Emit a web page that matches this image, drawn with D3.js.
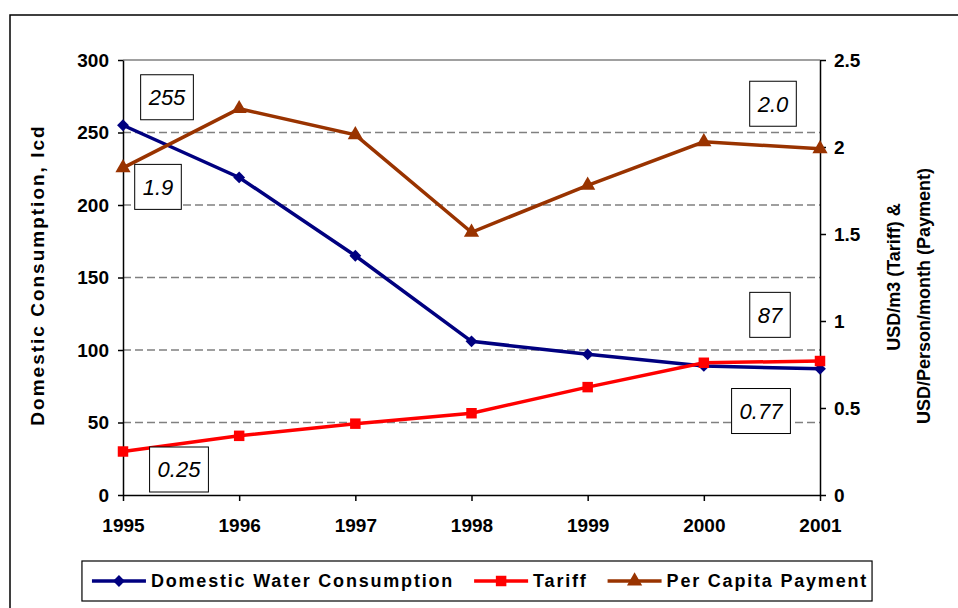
<!DOCTYPE html>
<meta charset="utf-8">
<script src="https://d3js.org/d3.v7.min.js"></script>
<style>
body { margin: 0; background: #fff; }
text { font-family: "Liberation Sans", Arial, sans-serif; }
</style>
<div id="main"></div>
<script>

// data
const years = [1995, 1996, 1997, 1998, 1999, 2000, 2001];
const consumption = [255, 219, 165, 106, 97, 89, 87];      // lcd, left axis
const tariff = [0.25, 0.34, 0.41, 0.47, 0.62, 0.76, 0.77]; // USD/m3, right axis
const payment = [1.88, 2.22, 2.07, 1.51, 1.78, 2.03, 1.99]; // USD/person/month, right axis
const leftTicks = [0, 50, 100, 150, 200, 250, 300];
const rightTicks = [0, 0.5, 1, 1.5, 2, 2.5];
const rightTickLabels = ["0", "0.5", "1", "1.5", "2", "2.5"];

const series = [
  {name: "Domestic Water Consumption", values: consumption, axis: "left", color: "#000080", symbol: "diamond"},
  {name: "Tariff", values: tariff, axis: "right", color: "#ff0000", symbol: "square"},
  {name: "Per Capita Payment", values: payment, axis: "right", color: "#993300", symbol: "triangle"}
];

// boxed value labels: series index, point index, text, offset of box centre
const labels = [
  {s: 0, i: 0, text: "255", dx: 44, dy: -28},
  {s: 2, i: 0, text: "1.9", dx: 35, dy: 19},
  {s: 1, i: 0, text: "0.25", dx: 56, dy: 18},
  {s: 2, i: 6, text: "2.0", dx: -47, dy: -45},
  {s: 0, i: 6, text: "87", dx: -50, dy: -54},
  {s: 1, i: 6, text: "0.77", dx: -59, dy: 50}
];

const W = 958, H = 608;
const plot = {left: 123, right: 820, top: 60, bottom: 495};

const svg = d3.select("#main").append("svg")
    .attr("width", W)
    .attr("height", H);

// outer frame (runs off the right and bottom of the picture)
svg.append("path")
    .attr("d", "M10," + H + "V15H" + W)
    .attr("fill", "none")
    .attr("stroke", "#000")
    .attr("stroke-width", 1.5);

const x = d3.scalePoint().domain(years).range([plot.left, plot.right]);
const yL = d3.scaleLinear().domain([0, 300]).range([plot.bottom, plot.top]);
const yR = d3.scaleLinear().domain([0, 2.5]).range([plot.bottom, plot.top]);
const yOf = s => s.axis === "left" ? yL : yR;

// gridlines
svg.append("g")
  .selectAll("line")
  .data(leftTicks.filter(d => d > 0 && d < 300))
  .enter().append("line")
    .attr("x1", plot.left).attr("x2", plot.right)
    .attr("y1", d => yL(d)).attr("y2", d => yL(d))
    .attr("stroke", "#808080")
    .attr("stroke-width", 1.3)
    .attr("stroke-dasharray", "8,4");

// top border of plot area
svg.append("line")
    .attr("x1", plot.left).attr("x2", plot.right)
    .attr("y1", plot.top).attr("y2", plot.top)
    .attr("stroke", "#808080")
    .attr("stroke-width", 1.5);

function styleAxis(g) {
  g.selectAll("path, line").attr("stroke", "#000").attr("stroke-width", 1.5);
  g.selectAll("text")
      .attr("fill", "#000")
      .attr("font-size", 19)
      .attr("font-weight", "bold")
      .attr("font-family", "\"Liberation Sans\", Arial, sans-serif");
}

svg.append("g")
    .attr("transform", "translate(" + plot.left + ",0)")
    .call(d3.axisLeft(yL).tickValues(leftTicks).tickSize(5).tickSizeOuter(0).tickPadding(9))
    .call(styleAxis);

svg.append("g")
    .attr("transform", "translate(" + plot.right + ",0)")
    .call(d3.axisRight(yR).tickValues(rightTicks).tickSize(6).tickSizeOuter(0).tickPadding(8)
      .tickFormat((d, i) => rightTickLabels[i]))
    .call(styleAxis);

svg.append("g")
    .attr("transform", "translate(0," + plot.bottom + ")")
    .call(d3.axisBottom(x).tickSize(6).tickSizeOuter(0).tickPadding(18))
    .call(styleAxis);

// axis titles
svg.append("text")
    .attr("transform", "translate(44,275) rotate(-90)")
    .attr("text-anchor", "middle")
    .attr("font-size", 19)
    .attr("font-weight", "bold")
    .attr("letter-spacing", "2px")
    .text("Domestic Consumption, lcd");

svg.append("text")
    .attr("transform", "translate(900,277) rotate(-90)")
    .attr("text-anchor", "middle")
    .attr("font-size", 18)
    .attr("font-weight", "bold")
    .text("USD/m3 (Tariff) &");

svg.append("text")
    .attr("transform", "translate(930,296) rotate(-90)")
    .attr("text-anchor", "middle")
    .attr("font-size", 18)
    .attr("font-weight", "bold")
    .text("USD/Person/month (Payment)");

// lines and markers
const symbolPath = {
  diamond: d3.symbol().type(d3.symbolSquare).size(70)(),
  square: d3.symbol().type(d3.symbolSquare).size(110)(),
  triangle: d3.symbol().type(d3.symbolTriangle).size(100)()
};
const symbolRot = {diamond: 45, square: 0, triangle: 0};

series.forEach(s => {
  const y = yOf(s);
  const line = d3.line()
      .x((d, i) => x(years[i]))
      .y(d => y(d));

  svg.append("path")
      .datum(s.values)
      .attr("d", line)
      .attr("fill", "none")
      .attr("stroke", s.color)
      .attr("stroke-width", 3.5)
      .attr("stroke-linejoin", "miter");

  svg.append("g")
    .selectAll("path")
    .data(s.values)
    .enter().append("path")
      .attr("d", symbolPath[s.symbol])
      .attr("transform", (d, i) => "translate(" + x(years[i]) + "," + y(d) + ") rotate(" + symbolRot[s.symbol] + ")")
      .attr("fill", s.color);
});

// boxed value labels
labels.forEach(l => {
  const s = series[l.s];
  const cx = x(years[l.i]) + l.dx;
  const cy = yOf(s)(s.values[l.i]) + l.dy;
  const g = svg.append("g");
  const rect = g.append("rect")
      .attr("fill", "#fff")
      .attr("stroke", "#000")
      .attr("stroke-width", 1);
  const t = g.append("text")
      .attr("x", cx)
      .attr("y", cy)
      .attr("dy", "0.36em")
      .attr("text-anchor", "middle")
      .attr("font-size", 22)
      .attr("font-style", "italic")
      .text(l.text);
  const w = t.node().getComputedTextLength() + 16;
  const h = 45;
  rect.attr("x", cx - w / 2).attr("y", cy - h / 2).attr("width", w).attr("height", h);
});

// legend
const legend = svg.append("g");
const legendBox = legend.append("rect")
    .attr("fill", "#fff")
    .attr("stroke", "#000")
    .attr("stroke-width", 1.2);
const legendY = 581;
let lx = 0;
const items = legend.append("g");
series.forEach((s, k) => {
  const g = items.append("g").attr("transform", "translate(" + lx + ",0)");
  g.append("line")
      .attr("x1", 0).attr("x2", 54)
      .attr("y1", legendY).attr("y2", legendY)
      .attr("stroke", s.color)
      .attr("stroke-width", 3.5);
  g.append("path")
      .attr("d", symbolPath[s.symbol])
      .attr("transform", "translate(27," + legendY + ") rotate(" + symbolRot[s.symbol] + ")")
      .attr("fill", s.color);
  const t = g.append("text")
      .attr("x", 59)
      .attr("y", legendY)
      .attr("dy", "0.36em")
      .attr("font-size", 18)
      .attr("font-weight", "bold")
      .attr("letter-spacing", "1.8px")
      .text(s.name);
  lx += 59 + t.node().getComputedTextLength() + 20;
});
const total = lx - 20;
const boxW = total + 14;
const boxX = 477 - boxW / 2;
items.attr("transform", "translate(" + (boxX + 10) + ",0)");
legendBox.attr("x", boxX).attr("y", 561).attr("width", boxW).attr("height", 40);

</script>
